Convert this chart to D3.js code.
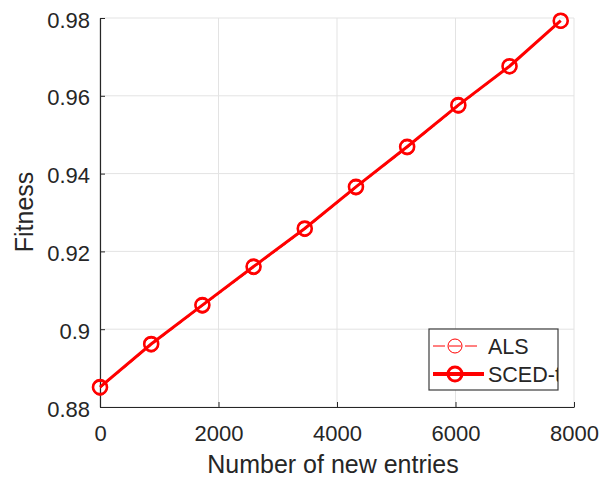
<!DOCTYPE html>
<html>
<head>
<meta charset="utf-8">
<script src="https://cdn.jsdelivr.net/npm/d3@7"></script>
<style>
  html, body { margin: 0; padding: 0; background: #fff; }
  svg text { font-family: "Liberation Sans", Arial, sans-serif; fill: #262626; }
</style>
</head>
<body>
<svg id="chart" width="603" height="477"></svg>
<script>
// Number of new entries added at each step
const entries = [0, 864, 1728, 2592, 3456, 4320, 5184, 6048, 6912, 7776];
// Fitness of each method after the new entries
const alsFitness   = [0.8848, 0.8959, 0.9059, 0.9158, 0.9256, 0.9363, 0.9466, 0.9573, 0.9674, 0.9791];
const scedFitness  = [0.8851, 0.8962, 0.9062, 0.9161, 0.9259, 0.9366, 0.9469, 0.9576, 0.9676, 0.9793];
const xTicks = [0, 2000, 4000, 6000, 8000];
const yTicks = [0.88, 0.9, 0.92, 0.94, 0.96, 0.98];
const seriesNames = ["ALS", "SCED-t"];

const svg = d3.select("#chart");
const margin = { left: 100, right: 29, top: 18, bottom: 70 };
const W = 603, H = 477;

const x = d3.scaleLinear().domain([0, 8000]).range([margin.left, W - margin.right]);
const y = d3.scaleLinear().domain([0.88, 0.98]).range([H - margin.bottom, margin.top]);

const red = "#ff0000";
const axisColor = "#262626";
const gridColor = "#e3e3e3";
const markerR = 7;

// grid
const grid = svg.append("g");
grid.selectAll(".gx").data(xTicks).join("line")
  .attr("x1", d => x(d)).attr("x2", d => x(d))
  .attr("y1", y.range()[0]).attr("y2", y.range()[1])
  .attr("stroke", gridColor).attr("stroke-width", 1);
grid.selectAll(".gy").data(yTicks).join("line")
  .attr("y1", d => y(d)).attr("y2", d => y(d))
  .attr("x1", x.range()[0]).attr("x2", x.range()[1])
  .attr("stroke", gridColor).attr("stroke-width", 1);

// axes with inward ticks
const xAxis = d3.axisBottom(x).tickValues(xTicks).tickFormat(d3.format("d"))
  .tickSizeInner(-5).tickSizeOuter(0).tickPadding(17);
const yAxis = d3.axisLeft(y).tickValues(yTicks).tickFormat(d => String(+d.toFixed(2)))
  .tickSizeInner(-5).tickSizeOuter(0).tickPadding(10);

const gx = svg.append("g").attr("transform", `translate(0,${y.range()[0]})`).call(xAxis);
const gy = svg.append("g").attr("transform", `translate(${x.range()[0]},0)`).call(yAxis);
[gx, gy].forEach(g => {
  g.select(".domain").attr("stroke", axisColor).attr("stroke-width", 1.2);
  g.selectAll(".tick line").attr("stroke", axisColor).attr("stroke-width", 1);
  g.selectAll(".tick text").attr("font-size", 22).attr("fill", axisColor)
    .style("font-family", "'Liberation Sans', Arial, sans-serif");
});
gx.selectAll(".tick text").attr("dy", "0.75em");
gy.selectAll(".tick text").attr("dy", "0.41em");

// axis titles
svg.append("text")
  .attr("x", 333).attr("y", 473)
  .attr("text-anchor", "middle").attr("font-size", 25)
  .text("Number of new entries");
svg.append("text")
  .attr("transform", "translate(33,212) rotate(-90)")
  .attr("text-anchor", "middle").attr("font-size", 25)
  .text("Fitness");

// series
const line = d3.line().x(d => x(d[0])).y(d => y(d[1]));
const als = entries.map((e, i) => [e, alsFitness[i]]);
const sced = entries.map((e, i) => [e, scedFitness[i]]);

svg.append("path").datum(als)
  .attr("d", line).attr("fill", "none")
  .attr("stroke", red).attr("stroke-width", 1).attr("stroke-dasharray", "6,4");
svg.append("g").selectAll("circle").data(als).join("circle")
  .attr("cx", d => x(d[0])).attr("cy", d => y(d[1])).attr("r", markerR)
  .attr("fill", "none").attr("stroke", red).attr("stroke-width", 1);

svg.append("path").datum(sced)
  .attr("d", line).attr("fill", "none")
  .attr("stroke", red).attr("stroke-width", 3);
svg.append("g").selectAll("circle").data(sced).join("circle")
  .attr("cx", d => x(d[0])).attr("cy", d => y(d[1])).attr("r", markerR)
  .attr("fill", "none").attr("stroke", red).attr("stroke-width", 2.6);

// legend
const lg = { x: 429, y: 329, w: 129, h: 61 };
svg.append("clipPath").attr("id", "legendClip")
  .append("rect").attr("x", lg.x).attr("y", lg.y).attr("width", lg.w).attr("height", lg.h);
const legend = svg.append("g");
legend.append("rect")
  .attr("x", lg.x).attr("y", lg.y).attr("width", lg.w).attr("height", lg.h)
  .attr("fill", "#fff").attr("stroke", "#3c3c3c").attr("stroke-width", 1.2);
const inner = legend.append("g").attr("clip-path", "url(#legendClip)");
const rows = [lg.y + 17, lg.y + 45];

// ALS entry: dashed sample line running through the marker
inner.append("line").attr("x1", 433).attr("x2", 477).attr("y1", rows[0]).attr("y2", rows[0])
  .attr("stroke", red).attr("stroke-width", 1).attr("stroke-dasharray", "12,4,12,4,12");
inner.append("circle").attr("cx", 455).attr("cy", rows[0]).attr("r", markerR)
  .attr("fill", "none").attr("stroke", red).attr("stroke-width", 1);
// SCED-t entry
inner.append("line").attr("x1", 433).attr("x2", 484).attr("y1", rows[1]).attr("y2", rows[1])
  .attr("stroke", red).attr("stroke-width", 4);
inner.append("circle").attr("cx", 455).attr("cy", rows[1]).attr("r", markerR)
  .attr("fill", "none").attr("stroke", red).attr("stroke-width", 3);

inner.selectAll(".lt").data(seriesNames).join("text")
  .attr("x", 488).attr("y", (d, i) => rows[i]).attr("dy", "0.36em")
  .attr("font-size", 21.5).attr("fill", "#1a1a1a")
  .text(d => d);
</script>
</body>
</html>
